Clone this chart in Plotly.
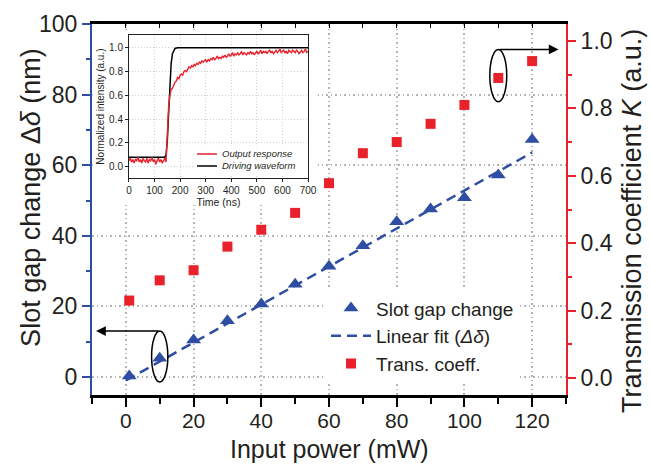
import plotly.graph_objects as go

# ---------------- data ----------------
power = [1, 10, 20, 30, 40, 50, 60, 70, 80, 90, 100, 110, 120]
slot_gap = [0.3, 5.3, 10.5, 15.9, 20.7, 26.3, 31.4, 37.2, 44.0, 47.6, 50.8, 57.2, 67.3]
trans_coeff = [0.23, 0.29, 0.32, 0.39, 0.44, 0.49, 0.578, 0.667, 0.70, 0.754, 0.81, 0.89, 0.94]
fit_power = [0, 120]
fit_gap = [-1.0, 63.6]

x_ticks = [0, 20, 40, 60, 80, 100, 120]

# inset: time response
inset_time = list(range(0, 705, 5))
output_response = [
    0.05, 0.07, 0.04, 0.06, 0.03, 0.06, 0.05, 0.08, 0.04, 0.06,
    0.03, 0.07, 0.05, 0.04, 0.07, 0.03, 0.06, 0.05, 0.08, 0.04,
    0.06, 0.02, 0.05, 0.07, 0.04, 0.06, 0.03, 0.05, 0.07, 0.04,
    0.30, 0.50, 0.60, 0.65, 0.66, 0.69, 0.71, 0.72, 0.75, 0.74,
    0.77, 0.78, 0.77, 0.80, 0.81, 0.80, 0.82, 0.84, 0.83, 0.85,
    0.84, 0.86, 0.85, 0.87, 0.86, 0.88, 0.87, 0.89, 0.88, 0.89,
    0.90, 0.88, 0.90, 0.89, 0.91, 0.90, 0.92, 0.90, 0.91, 0.93,
    0.91, 0.92, 0.91, 0.93, 0.92, 0.94, 0.92, 0.93, 0.95, 0.93,
    0.94, 0.96, 0.93, 0.95, 0.94, 0.96, 0.94, 0.95, 0.97, 0.94,
    0.96, 0.95, 0.94, 0.96, 0.95, 0.97, 0.95, 0.96, 0.94, 0.96,
    0.97, 0.95, 0.96, 0.98, 0.95, 0.97, 0.96, 0.97, 0.95, 0.97,
    0.98, 0.96, 0.97, 0.95, 0.97, 0.98, 0.96, 0.97, 0.99, 0.96,
    0.97, 0.98, 0.96, 0.97, 0.95, 0.98, 0.97, 0.96, 0.98, 0.97,
    0.96, 0.98, 0.97, 0.95, 0.97, 0.98, 0.96, 0.97, 0.99, 0.96,
    0.97,
]
drive_time = [0, 140, 145, 150, 155, 160, 165, 170, 175, 180, 190, 700]
drive_wave = [0.08, 0.08, 0.10, 0.22, 0.45, 0.70, 0.87, 0.95, 0.98, 0.995, 1.0, 1.0]

# ---------------- style ----------------
BLUE = "#2f4ea3"
RED = "#e8212b"
TXT = "#231f20"
FONT = "Liberation Sans, Arial, sans-serif"
GRID = "#b4b4b4"

fig = go.Figure()

fig.add_trace(go.Scatter(
    x=fit_power, y=fit_gap, mode="lines", name="Linear fit (<i>Δδ</i>)",
    line=dict(color=BLUE, width=2.5, dash="10px,6px"), legendrank=2))
fig.add_trace(go.Scatter(
    x=power, y=slot_gap, mode="markers", name="Slot gap change",
    marker=dict(symbol="triangle-up", size=13, color=BLUE), legendrank=1))
fig.add_trace(go.Scatter(
    x=power, y=trans_coeff, mode="markers", name="Trans. coeff.", yaxis="y2",
    marker=dict(symbol="square", size=10, color=RED), legendrank=3))
# helper for top axis
fig.add_trace(go.Scatter(x=[None], y=[None], xaxis="x2", yaxis="y",
                         showlegend=False, hoverinfo="skip"))

# inset traces
fig.add_trace(go.Scatter(
    x=drive_time, y=drive_wave, mode="lines", xaxis="x3", yaxis="y3",
    line=dict(color="black", width=1.5), showlegend=False, name="Driving waveform"))
fig.add_trace(go.Scatter(
    x=inset_time, y=output_response, mode="lines", xaxis="x3", yaxis="y3",
    line=dict(color=RED, width=1.4), showlegend=False, name="Output response"))

grid_dash = "1.5px,3px"

fig.update_layout(
    width=650, height=464,
    margin=dict(l=92, r=84, t=24, b=69, autoexpand=False),
    paper_bgcolor="white", plot_bgcolor="white",
    font=dict(family=FONT, size=22, color=TXT),
    legend=dict(x=0.4937, y=0.285, xanchor="left", yanchor="top",
                bgcolor="white", font=dict(size=19, color=TXT),
                itemwidth=40, traceorder="normal"),
    xaxis=dict(
        domain=[0, 1], range=[-10, 130], tickmode="array", tickvals=x_ticks,
        ticks="outside", ticklen=9, tickwidth=1.5, tickcolor="black",
        tickfont=dict(size=21), ticklabelstandoff=-4,
        minor=dict(tickmode="linear", tick0=0, dtick=10, ticks="outside",
                   ticklen=6, tickwidth=1.5, tickcolor="black", showgrid=False),
        showline=True, linecolor="black", linewidth=2.5,
        showgrid=True, gridcolor=GRID, griddash=grid_dash, gridwidth=1.5,
        zeroline=False, automargin=False,
    ),
    xaxis2=dict(
        overlaying="x", side="top", anchor="y", range=[-10, 130],
        tickmode="linear", tick0=0, dtick=10, ticks="inside", ticklen=4,
        tickwidth=1.2, tickcolor="black", showticklabels=False,
        showline=True, linecolor="black", linewidth=2.5, showgrid=False,
        zeroline=False, automargin=False,
    ),
    yaxis=dict(
        range=[-5.1, 100], tickmode="linear", tick0=0, dtick=20,
        ticks="outside", ticklen=8, tickwidth=2, tickcolor=BLUE,
        tickfont=dict(size=23),
        minor=dict(tickmode="linear", tick0=0, dtick=10, ticks="outside",
                   ticklen=4, tickwidth=2, tickcolor=BLUE, showgrid=False),
        showline=True, linecolor=BLUE, linewidth=2,
        showgrid=True, gridcolor=GRID, griddash=grid_dash, gridwidth=1.5,
        zeroline=False, automargin=False,
    ),
    yaxis2=dict(
        overlaying="y", side="right", anchor="x", range=[-0.05, 1.05],
        tickmode="linear", tick0=0, dtick=0.2, tickformat=".1f",
        ticks="outside", ticklen=8, tickwidth=2, tickcolor=RED,
        tickfont=dict(size=23),
        minor=dict(tickmode="linear", tick0=0, dtick=0.1, ticks="outside",
                   ticklen=4, tickwidth=2, tickcolor=RED, showgrid=False),
        showline=True, linecolor=RED, linewidth=2, showgrid=False,
        zeroline=False, automargin=False,
    ),
    xaxis3=dict(
        domain=[0.078, 0.4557], anchor="y3", range=[0, 700],
        tickmode="linear", tick0=0, dtick=100,
        ticks="outside", ticklen=3, tickwidth=1, tickcolor="#222",
        tickfont=dict(size=10, color=TXT),
        showline=True, mirror=True, linecolor="#222", linewidth=1,
        showgrid=True, gridcolor="#cfcfcf", griddash="1px,2px", gridwidth=1,
        zeroline=False, automargin=False,
        title=dict(text="Time (ns)", font=dict(size=10.5), standoff=1),
    ),
    yaxis3=dict(
        domain=[0.585, 0.970], anchor="x3", range=[-0.095, 1.107],
        tickmode="linear", tick0=0, dtick=0.2, tickformat=".1f",
        ticks="outside", ticklen=3, tickwidth=1, tickcolor="#222",
        tickfont=dict(size=10, color=TXT),
        showline=True, mirror=True, linecolor="#222", linewidth=1,
        showgrid=True, gridcolor="#cfcfcf", griddash="1px,2px", gridwidth=1,
        zeroline=False, automargin=False,
        title=dict(text="Normalized intensity (a.u.)", font=dict(size=10), standoff=2),
    ),
)

shapes = [
    # white area behind inset (covers main grid)
    dict(type="rect", xref="x", yref="y", x0=-9.8, x1=56.7, y0=48.7, y1=98,
         fillcolor="white", line=dict(width=0), layer="between"),
    # white area behind inset legend
    dict(type="rect", xref="x3", yref="y3", x0=255, x1=695, y0=-0.07, y1=0.17,
         fillcolor="white", line=dict(width=0), layer="between"),
    # inset legend line samples
    dict(type="line", xref="x3", yref="y3", x0=266, x1=344, y0=0.107, y1=0.107,
         line=dict(color=RED, width=1.5)),
    dict(type="line", xref="x3", yref="y3", x0=266, x1=344, y0=0.006, y1=0.006,
         line=dict(color="black", width=1.5)),
    # ellipses
    dict(type="circle", xref="x", yref="y", x0=7.6, x1=12.4, y0=-1.4, y1=13.0,
         line=dict(color="black", width=1.5)),
    dict(type="circle", xref="x", yref="y", x0=107.5, x1=112.5, y0=78.0, y1=92.8,
         line=dict(color="black", width=1.5)),
]
fig.update_layout(shapes=shapes)

annotations = [
    dict(x=-8.8, y=13.0, ax=10, ay=13.0, xref="x", yref="y", axref="x", ayref="y",
         text="", showarrow=True, arrowhead=2, arrowsize=1.3, arrowwidth=1.5,
         arrowcolor="black"),
    dict(x=127.8, y=92.8, ax=110, ay=92.8, xref="x", yref="y", axref="x", ayref="y",
         text="", showarrow=True, arrowhead=2, arrowsize=1.3, arrowwidth=1.5,
         arrowcolor="black"),
    dict(x=355, y=0.107, xref="x3", yref="y3", xanchor="left", yanchor="middle",
         text="<i>Output response</i>", showarrow=False,
         font=dict(size=9.5, color=TXT)),
    dict(x=355, y=0.006, xref="x3", yref="y3", xanchor="left", yanchor="middle",
         text="<i>Driving waveform</i>", showarrow=False,
         font=dict(size=9.5, color=TXT)),
    # axis titles
    dict(x=0.5, y=-0.1456, xref="paper", yref="paper",
         xanchor="center", yanchor="middle", showarrow=False,
         text="Input power (mW)", font=dict(size=25, color=TXT)),
    dict(x=-0.1287, y=0.534, xref="paper", yref="paper", textangle=-90,
         xanchor="center", yanchor="middle", showarrow=False,
         text="Slot gap change Δ<i>δ</i> (nm)", font=dict(size=27, color=TXT)),
    dict(x=1.139, y=0.469, xref="paper", yref="paper", textangle=-90,
         xanchor="center", yanchor="middle", showarrow=False,
         text="Transmission coefficient <i>K</i> (a.u.)", font=dict(size=27, color=TXT)),
]
fig.update_layout(annotations=annotations)

fig.write_html("out.html")
